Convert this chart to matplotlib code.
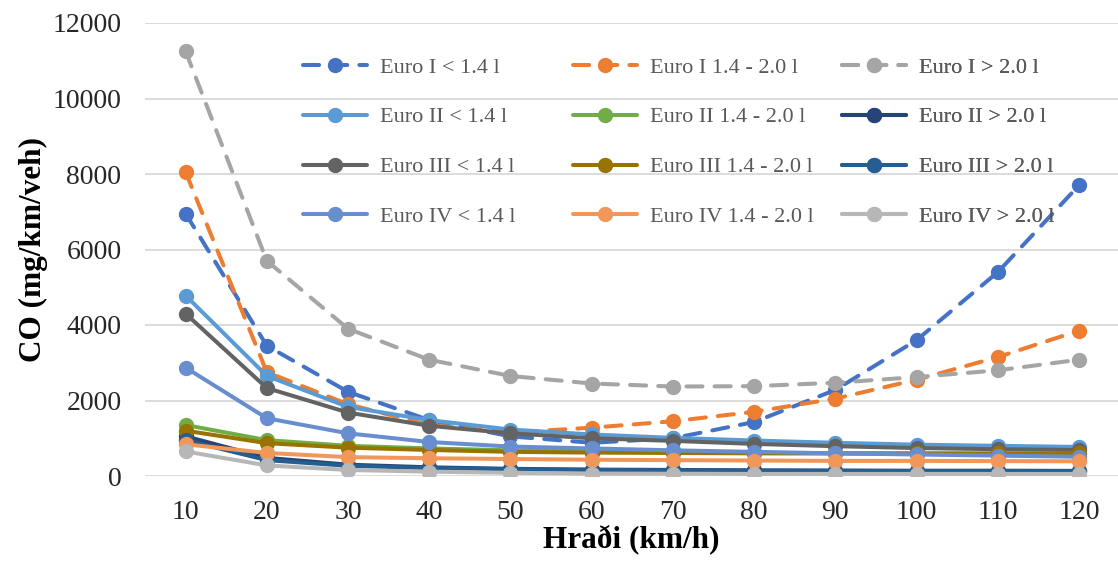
import matplotlib.pyplot as plt

# Hraði (km/h)
speeds = [10, 20, 30, 40, 50, 60, 70, 80, 90, 100, 110, 120]

labels = ['Euro I < 1.4 l', 'Euro I 1.4 - 2.0 l', 'Euro I > 2.0 l',
          'Euro II < 1.4 l', 'Euro II 1.4 - 2.0 l', 'Euro II > 2.0 l',
          'Euro III < 1.4 l', 'Euro III 1.4 - 2.0 l', 'Euro III > 2.0 l',
          'Euro IV < 1.4 l', 'Euro IV 1.4 - 2.0 l', 'Euro IV > 2.0 l']

# CO (mg/km/veh), lesið af myndinni
euro1_small = [6950, 3450, 2230, 1480, 1050, 880, 1000, 1430, 2280, 3600, 5400, 7700]
euro1_mid = [8050, 2750, 1900, 1350, 1150, 1280, 1450, 1700, 2050, 2550, 3150, 3850]
euro1_large = [11250, 5700, 3900, 3080, 2650, 2450, 2370, 2380, 2470, 2620, 2800, 3080]
euro2_small = [4780, 2650, 1830, 1480, 1230, 1100, 1010, 940, 880, 830, 800, 770]
euro2_mid = [1350, 950, 800, 730, 680, 650, 630, 610, 600, 590, 580, 570]
euro2_large = [1050, 480, 300, 230, 190, 170, 160, 150, 145, 140, 140, 135]
euro3_small = [4300, 2330, 1680, 1330, 1130, 1000, 930, 850, 790, 740, 710, 690]
euro3_mid = [1200, 870, 750, 690, 640, 620, 610, 600, 600, 600, 600, 600]
euro3_large = [950, 420, 270, 210, 180, 160, 150, 140, 135, 130, 130, 130]
euro4_small = [2870, 1530, 1130, 900, 780, 730, 680, 640, 600, 570, 540, 510]
euro4_mid = [840, 610, 500, 470, 450, 430, 420, 410, 400, 400, 395, 390]
euro4_large = [650, 280, 160, 115, 85, 65, 60, 55, 55, 55, 55, 55]

series = [euro1_small, euro1_mid, euro1_large,
          euro2_small, euro2_mid, euro2_large,
          euro3_small, euro3_mid, euro3_large,
          euro4_small, euro4_mid, euro4_large]

colors = ['#4472C4', '#ED7D31', '#A5A5A5',
          '#5B9BD5', '#70AD47', '#264478',
          '#636363', '#997300', '#255E91',
          '#698ED0', '#F1975A', '#B7B7B7']

W, H = 1118, 568
fig = plt.figure(figsize=(W / 100, H / 100), dpi=100)
ax = fig.add_axes([145 / W, 92 / H, 973 / W, 453 / H])

handles = []
for i, (vals, col, lab) in enumerate(zip(series, colors, labels)):
    line, = ax.plot(speeds, vals, color=col, lw=2.9, marker='o', markersize=10,
                    label=lab, solid_capstyle='round', dash_capstyle='round',
                    zorder=3 + i * 0.01)
    if i < 3:
        line.set_dashes([4, 3])
    handles.append(line)

ax.set_xlim(5, 124.8)
ax.set_ylim(0, 12000)
ax.set_xticks(speeds)
ax.set_yticks(range(0, 12001, 2000))
ax.grid(axis='y', color='#D9D9D9', lw=1.3)
ax.set_axisbelow(True)
for s in ax.spines.values():
    s.set_visible(False)
ax.tick_params(length=0, labelsize=20, labelcolor='#262626')
ax.tick_params(axis='x', pad=17)
ax.tick_params(axis='y', pad=17)
for t in ax.get_xticklabels() + ax.get_yticklabels():
    t.set_family('Liberation Serif')

ax.set_xlabel('Hraði (km/h)', fontsize=22.5, fontweight='bold',
              family='Liberation Serif', labelpad=0)
ax.set_ylabel('CO (mg/km/veh)', fontsize=22.5, fontweight='bold',
              family='Liberation Serif', labelpad=3)

# Excel hefur fasta dálkbreidd: ein skýring fyrir hvern dálk
col_x = [303, 573, 842]
for c in range(3):
    idx = [c, c + 3, c + 6, c + 9]
    leg = ax.legend([handles[i] for i in idx], [labels[i] for i in idx],
                    loc='upper left', bbox_to_anchor=(col_x[c] / W, 1 - 57 / H),
                    bbox_transform=fig.transFigure, frameon=False,
                    prop={'family': 'Liberation Serif', 'size': 16},
                    handlelength=2.9, handletextpad=0.55, labelspacing=1.32,
                    borderpad=0, borderaxespad=0)
    for t in leg.get_texts():
        t.set_color('#595959')
    ax.add_artist(leg)

fig.savefig('out.png', dpi=100)
